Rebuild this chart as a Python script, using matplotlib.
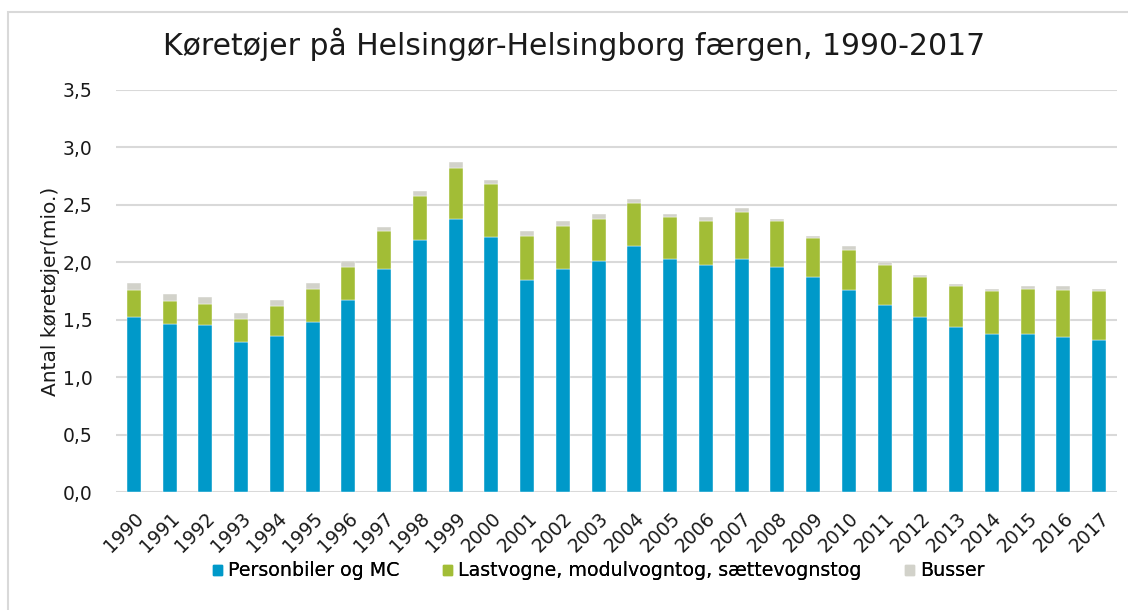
import matplotlib
matplotlib.use("Agg")
import matplotlib.pyplot as plt
import matplotlib.ticker as mticker
from matplotlib.patches import Rectangle, Patch
import numpy as np

plt.rcParams["font.family"] = ["DejaVu Sans"]

years = [str(y) for y in range(1990, 2018)]
personbiler = [1.52, 1.46, 1.45, 1.31, 1.36, 1.48, 1.67, 1.94, 2.19, 2.38,
               2.22, 1.85, 1.94, 2.01, 2.14, 2.03, 1.98, 2.03, 1.96, 1.87,
               1.76, 1.63, 1.52, 1.44, 1.38, 1.38, 1.35, 1.32]
lastvogne = [0.24, 0.20, 0.19, 0.20, 0.26, 0.29, 0.29, 0.33, 0.39, 0.44,
             0.46, 0.38, 0.38, 0.37, 0.38, 0.36, 0.38, 0.41, 0.40, 0.34,
             0.35, 0.35, 0.35, 0.35, 0.37, 0.39, 0.41, 0.43]
busser = [0.06, 0.06, 0.06, 0.05, 0.05, 0.05, 0.05, 0.04, 0.04, 0.05,
          0.04, 0.04, 0.04, 0.04, 0.03, 0.03, 0.03, 0.03, 0.02, 0.02,
          0.03, 0.02, 0.02, 0.02, 0.02, 0.02, 0.03, 0.02]
labels = ["Personbiler og MC", "Lastvogne, modulvogntog, sættevognstog", "Busser"]
colors = ["#0099c9", "#a2bd36", "#d2d2ca"]

W, H = 1128, 610
fig = plt.figure(figsize=(W / 100, H / 100), dpi=100)
ax = fig.add_axes([0.1028, 0.1934, 0.8875, 0.6591])

# chart frame (clipped on the right and bottom in the original)
fig.patches.append(Rectangle((8 / W, -0.1), 1.2, 1 - 12 / H + 0.1,
                             transform=fig.transFigure, fill=False,
                             edgecolor="#d9d9d9", linewidth=1.5))

x = np.arange(len(years))
w = 0.39
bottom = np.zeros(len(years))
for vals, col, lab in zip([personbiler, lastvogne, busser], colors, labels):
    ax.bar(x, vals, w, bottom=bottom, color=col, label=lab,
           edgecolor="white", linewidth=0.3, zorder=3)
    bottom += np.array(vals)

ax.set_xlim(-0.5, len(years) - 0.5)
ax.set_ylim(0, 3.5)
ax.set_yticks(np.arange(0, 3.51, 0.5))
ax.yaxis.set_major_formatter(mticker.FuncFormatter(lambda v, p: f"{v:.1f}".replace(".", ",")))
ax.grid(axis="y", color="#d9d9d9", linewidth=1.5, zorder=0)
for s in ax.spines.values():
    s.set_visible(False)
ax.tick_params(axis="both", length=0, labelsize=13.5, colors="#1a1a1a")
ax.tick_params(axis="y", pad=17)
ax.set_xticks(x)
ax.set_xticklabels(years, rotation=45, ha="right", rotation_mode="anchor")
ax.tick_params(axis="x", pad=12)
ax.set_ylabel("Antal køretøjer(mio.)", fontsize=14.5, color="#1a1a1a", labelpad=2)

fig.text(163 / W, 1 - 55 / H, "Køretøjer på Helsingør-Helsingborg færgen, 1990-2017",
         ha="left", va="baseline", fontsize=21.5, color="#1a1a1a")

# legend entries spaced as in the original
legend_x = [213, 443, 905]
for lx, col, lab in zip(legend_x, colors, labels):
    leg = fig.legend(handles=[Patch(color=col, label=lab)], loc="center left",
                     bbox_to_anchor=(lx / W, 1 - 571 / H), frameon=False,
                     fontsize=13.7, handlelength=0.45, handleheight=0.45,
                     handletextpad=0.35, borderpad=0, borderaxespad=0)
    fig.add_artist(leg)

fig.savefig("out.png", dpi=100)
